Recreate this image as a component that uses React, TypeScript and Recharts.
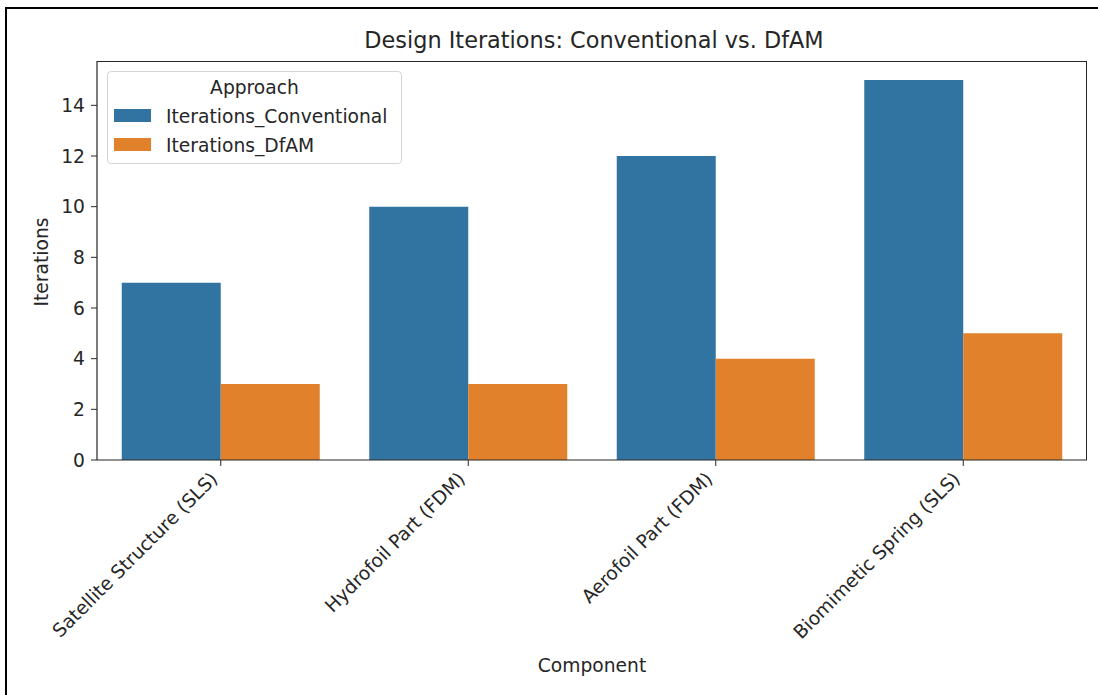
import { BarChart, Bar, XAxis, YAxis } from "recharts";

const components = [
  "Satellite Structure (SLS)",
  "Hydrofoil Part (FDM)",
  "Aerofoil Part (FDM)",
  "Biomimetic Spring (SLS)",
];
const iterationsConventional = [7, 10, 12, 15];
const iterationsDfAM = [3, 3, 4, 5];
const yTicks = [0, 2, 4, 6, 8, 10, 12, 14];

const BLUE = "#3274a1";
const ORANGE = "#e1812c";
const FONT = "'DejaVu Sans', sans-serif";
const FS = 18.7;

const data = components.map((name, i) => ({
  name,
  Iterations_Conventional: iterationsConventional[i],
  Iterations_DfAM: iterationsDfAM[i],
}));

const XTick = (props: any) => {
  const { x, y, payload } = props;
  return (
    <g transform={`translate(${x - 2},${y + 12})`}>
      <text
        textAnchor="end"
        transform="rotate(-45)"
        fontSize={FS}
        fontFamily={FONT}
        fill="#262626"
      >
        {payload.value}
      </text>
    </g>
  );
};

const legendItems = [
  { label: "Iterations_Conventional", color: BLUE },
  { label: "Iterations_DfAM", color: ORANGE },
];

const LegendBox = () => (
  <div
    style={{
      position: "absolute",
      left: 107,
      top: 71,
      width: 295,
      height: 93,
      boxSizing: "border-box",
      border: "1px solid #d5d5d5",
      borderRadius: 4,
      background: "rgba(255,255,255,0.8)",
      fontFamily: FONT,
      fontSize: FS,
      lineHeight: "22px",
      color: "#262626",
    }}
  >
    <div style={{ position: "absolute", top: 5, left: 0, width: 293, textAlign: "center" }}>Approach</div>
    {legendItems.map((e, i) => (
      <div key={e.label}>
        <span
          style={{
            position: "absolute",
            top: 37 + i * 29,
            left: 6,
            width: 37,
            height: 13,
            background: e.color,
          }}
        />
        <span style={{ position: "absolute", top: 33.5 + i * 29, left: 58, whiteSpace: "nowrap" }}>
          {e.label}
        </span>
      </div>
    ))}
  </div>
);

export default function App() {
  return (
    <div style={{ position: "absolute", left: 0, top: 0, width: 1098, height: 695, background: "#fff", overflow: "hidden" }}>
      <div
        style={{
          position: "absolute",
          left: 5,
          top: 7,
          width: 1200,
          height: 800,
          borderLeft: "2px solid #000",
          borderTop: "2px solid #000",
        }}
      />
      <div
        style={{
          position: "absolute",
          left: 0,
          top: 27,
          width: 1188,
          textAlign: "center",
          fontFamily: FONT,
          fontSize: 22.4,
          lineHeight: "26px",
          color: "#262626",
        }}
      >
        Design Iterations: Conventional vs. DfAM
      </div>
      <div
        style={{
          position: "absolute",
          left: 0,
          top: 655,
          width: 1184,
          textAlign: "center",
          fontFamily: FONT,
          fontSize: FS,
          lineHeight: "22px",
          color: "#262626",
        }}
      >
        Component
      </div>
      <div
        style={{
          position: "absolute",
          left: 42,
          top: 262,
          transform: "translate(-50%,-50%) rotate(-90deg)",
          fontFamily: FONT,
          fontSize: FS,
          lineHeight: "22px",
          color: "#262626",
          whiteSpace: "nowrap",
        }}
      >
        Iterations
      </div>
      <div style={{ position: "absolute", left: 0, top: 0 }}>
        <BarChart
          width={1098}
          height={695}
          data={data}
          margin={{ top: 61, right: 11, bottom: 35, left: 37 }}
          barCategoryGap="10%"
          barGap={0}
        >
          <XAxis
            dataKey="name"
            height={200}
            tick={<XTick />}
            tickSize={6}
            axisLine={{ stroke: "#262626", strokeWidth: 1.2 }}
            tickLine={{ stroke: "#262626" }}
            interval={0}
          />
          <YAxis
            width={60}
            domain={[0, 15.75]}
            ticks={yTicks}
            allowDataOverflow
            tickSize={6}
            tickMargin={6}
            axisLine={{ stroke: "#262626", strokeWidth: 1.2 }}
            tickLine={{ stroke: "#262626" }}
            tick={{ fontSize: FS, fontFamily: FONT, fill: "#262626" }}
          />
          <Bar dataKey="Iterations_Conventional" fill={BLUE} isAnimationActive={false} />
          <Bar dataKey="Iterations_DfAM" fill={ORANGE} isAnimationActive={false} />
        </BarChart>
      </div>
      <div
        style={{
          position: "absolute",
          left: 97,
          top: 61,
          width: 990,
          height: 399,
          boxSizing: "border-box",
          borderTop: "1.2px solid #262626",
          borderRight: "1.2px solid #262626",
          pointerEvents: "none",
        }}
      />
      <LegendBox />
    </div>
  );
}
